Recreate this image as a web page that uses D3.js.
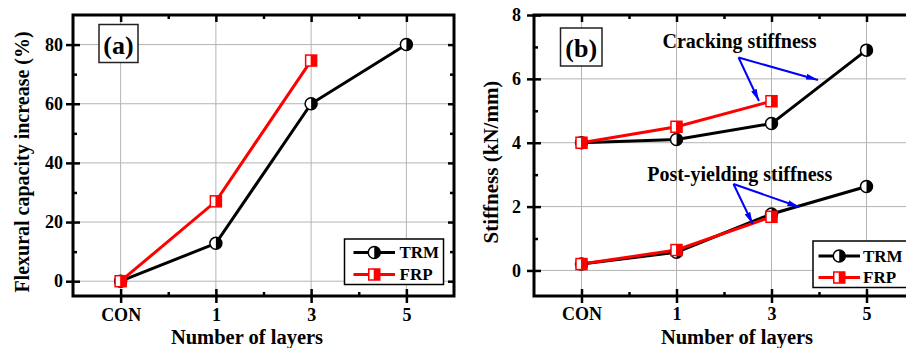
<!DOCTYPE html>
<html>
<head>
<meta charset="utf-8">
<script src="https://cdn.jsdelivr.net/npm/d3@7"></script>
<style>
  body { margin: 0; background: #fff; }
  svg text { font-family: "Liberation Serif", "Times New Roman", Tinos, "DejaVu Serif", serif !important; font-weight: bold; fill: #000; }
</style>
</head>
<body>
<div id="chart"></div>
<script>
// categories shared by both panels
var layers = ['CON', '1', '3', '5'];

// panel (a) flexural capacity increase (%)
var flexTRM = [0, 12.8, 60, 80];
var flexFRP = [0, 27, 74.6];

// panel (b) stiffness (kN/mm)
var crackTRM = [4.0, 4.1, 4.6, 6.9];
var crackFRP = [4.0, 4.5, 5.3];
var yieldTRM = [0.2, 0.57, 1.77, 2.63];
var yieldFRP = [0.2, 0.64, 1.68];

var flexTicks = [0, 20, 40, 60, 80];
var stiffTicks = [0, 2, 4, 6, 8];

var svg = d3.select('#chart').append('svg')
  .attr('width', 906)
  .attr('height', 348);

var defs = svg.append('defs');
defs.append('marker')
  .attr('id', 'arrow')
  .attr('viewBox', '0 0 12 6')
  .attr('refX', 12)
  .attr('refY', 3)
  .attr('markerWidth', 12)
  .attr('markerHeight', 6)
  .attr('markerUnits', 'userSpaceOnUse')
  .attr('orient', 'auto')
  .append('path')
  .attr('d', 'M0,0 L12,3 L0,6 Z')
  .attr('fill', '#0000ff');

function drawPanel(p) {
  var x = d3.scaleLinear().domain([-0.5, 3.5]).range([p.left, p.right]);
  var y = d3.scaleLinear().domain(p.yDomain).range([p.bottom, p.top]);
  var g = svg.append('g');

  var clipId = 'clip' + p.name;
  defs.append('clipPath').attr('id', clipId)
    .append('rect')
    .attr('x', p.left).attr('y', p.top)
    .attr('width', p.right - p.left).attr('height', p.bottom - p.top);

  var plot = g.append('g').attr('clip-path', 'url(#' + clipId + ')');

  // grid
  plot.selectAll('.gx').data(layers).enter().append('line')
    .attr('x1', function(d, i) { return x(i); })
    .attr('x2', function(d, i) { return x(i); })
    .attr('y1', p.top).attr('y2', p.bottom)
    .attr('stroke', '#b4b4b4').attr('stroke-width', 1);
  plot.selectAll('.gy').data(p.ticks).enter().append('line')
    .attr('x1', p.left).attr('x2', p.right)
    .attr('y1', function(d) { return y(d); })
    .attr('y2', function(d) { return y(d); })
    .attr('stroke', '#b4b4b4').attr('stroke-width', 1);

  var idx = layers.map(function(d, i) { return i; });
  var minorX = [0.5, 1.5, 2.5];
  var step = p.ticks[1] - p.ticks[0];
  var minorY = p.ticks.map(function(d) { return d + step / 2; })
    .concat([p.ticks[0] - step / 2])
    .filter(function(d) { return d > p.yDomain[0] && d < p.yDomain[1]; });

  // bottom axis with labels, outward ticks
  var bx = g.append('g').attr('transform', 'translate(0,' + p.bottom + ')')
    .call(d3.axisBottom(x).tickValues(idx).tickSize(7).tickPadding(p.xPad)
      .tickFormat(function(i) { return layers[i]; }));
  bx.selectAll('text').style('font-size', '18px');
  g.append('g').attr('transform', 'translate(0,' + p.bottom + ')')
    .call(d3.axisBottom(x).tickValues(idx).tickSize(-7).tickFormat(''));
  g.append('g').attr('transform', 'translate(0,' + p.bottom + ')')
    .call(d3.axisBottom(x).tickValues(minorX).tickSize(-4).tickFormat(''));
  // top axis
  g.append('g').attr('transform', 'translate(0,' + p.top + ')')
    .call(d3.axisTop(x).tickValues(idx).tickSize(-7).tickFormat(''));
  g.append('g').attr('transform', 'translate(0,' + p.top + ')')
    .call(d3.axisTop(x).tickValues(minorX).tickSize(-4).tickFormat(''));
  // left axis
  var ly = g.append('g').attr('transform', 'translate(' + p.left + ',0)')
    .call(d3.axisLeft(y).tickValues(p.ticks).tickSize(7).tickPadding(p.yPad));
  ly.selectAll('text').style('font-size', '18px');
  g.append('g').attr('transform', 'translate(' + p.left + ',0)')
    .call(d3.axisLeft(y).tickValues(p.ticks).tickSize(-7).tickFormat(''));
  g.append('g').attr('transform', 'translate(' + p.left + ',0)')
    .call(d3.axisLeft(y).tickValues(minorY).tickSize(-4).tickFormat(''));
  // right axis
  g.append('g').attr('transform', 'translate(' + p.right + ',0)')
    .call(d3.axisRight(y).tickValues(p.ticks).tickSize(-6).tickFormat(''));
  g.append('g').attr('transform', 'translate(' + p.right + ',0)')
    .call(d3.axisRight(y).tickValues(minorY).tickSize(-4).tickFormat(''));

  g.selectAll('.domain').remove();
  g.selectAll('.tick line').attr('stroke', '#000').attr('stroke-width', 2.5);

  g.append('rect')
    .attr('x', p.left).attr('y', p.top)
    .attr('width', p.right - p.left).attr('height', p.bottom - p.top)
    .attr('fill', 'none').attr('stroke', '#000').attr('stroke-width', 3);

  // panel tag
  g.append('rect')
    .attr('x', p.tag.x).attr('y', p.tag.y).attr('width', p.tag.w).attr('height', p.tag.h)
    .attr('fill', '#fff').attr('stroke', '#222').attr('stroke-width', 1.5);
  g.append('text')
    .attr('x', p.tag.x + p.tag.w / 2).attr('y', p.tag.y + p.tag.h - 9)
    .attr('text-anchor', 'middle').style('font-size', '26px')
    .text(p.tag.label);

  // axis titles
  g.append('text')
    .attr('transform', 'translate(' + p.yTitleX + ',' + p.yTitleY + ') rotate(-90)')
    .attr('text-anchor', 'middle').style('font-size', p.yTitleSize + 'px')
    .text(p.yTitle);
  g.append('text')
    .attr('x', p.xTitleX).attr('y', 344)
    .attr('text-anchor', 'middle').style('font-size', '20.5px')
    .text('Number of layers');

  var line = d3.line()
    .x(function(d, i) { return x(i); })
    .y(function(d) { return y(d); });

  var marks = g.append('g').attr('clip-path', 'url(#' + clipId + ')');
  p.series.forEach(function(s) {
    var col = s.kind === 'TRM' ? '#000' : '#ff0000';
    marks.append('path')
      .attr('d', line(s.values))
      .attr('fill', 'none').attr('stroke', col).attr('stroke-width', 3);
  });
  p.series.forEach(function(s) {
    var pts = marks.selectAll(null).data(s.values).enter().append('g')
      .attr('transform', function(d, i) { return 'translate(' + x(i) + ',' + y(d) + ')'; });
    drawMarker(pts, s.kind);
  });

  // annotations (data units)
  (p.notes || []).forEach(function(n) {
    g.append('text')
      .attr('x', x(n.text[0])).attr('y', y(n.text[1]))
      .attr('text-anchor', 'middle').style('font-size', '20px')
      .text(n.label);
    n.heads.forEach(function(h) {
      g.append('line')
        .attr('x1', x(n.from[0])).attr('y1', y(n.from[1]))
        .attr('x2', x(h[0])).attr('y2', y(h[1]))
        .attr('stroke', '#0000ff').attr('stroke-width', 2)
        .attr('marker-end', 'url(#arrow)');
    });
  });

  // legend
  var L = p.legend;
  var lg = g.append('g');
  lg.append('rect')
    .attr('x', L.x).attr('y', L.y).attr('width', L.w).attr('height', L.h)
    .attr('fill', '#fff').attr('stroke', '#000').attr('stroke-width', 1.5);
  ['TRM', 'FRP'].forEach(function(k, i) {
    var yy = L.y + L.row0 + i * L.rowGap;
    var col = k === 'TRM' ? '#000' : '#ff0000';
    lg.append('line')
      .attr('x1', L.x + L.l0).attr('x2', L.x + L.l1)
      .attr('y1', yy).attr('y2', yy)
      .attr('stroke', col).attr('stroke-width', 3);
    drawMarker(lg.append('g').attr('transform', 'translate(' + (L.x + (L.l0 + L.l1) / 2) + ',' + yy + ')'), k);
    lg.append('text')
      .attr('x', L.x + L.tx).attr('y', yy + 5.5)
      .style('font-size', '17px')
      .text(k);
  });
}

function drawMarker(sel, kind) {
  if (kind === 'TRM') {
    sel.append('circle').attr('r', 6)
      .attr('fill', '#fff').attr('stroke', '#000').attr('stroke-width', 1.5);
    sel.append('path').attr('d', 'M0,-6 A6,6 0 0 1 0,6 Z').attr('fill', '#000');
  } else {
    sel.append('rect').attr('x', -5.5).attr('y', -5.5).attr('width', 11).attr('height', 11)
      .attr('fill', '#fff').attr('stroke', '#ff0000').attr('stroke-width', 1.5);
    sel.append('rect').attr('x', -0.5).attr('y', -5.5).attr('width', 6).attr('height', 11)
      .attr('fill', '#ff0000');
  }
}

drawPanel({
  name: 'a',
  left: 73, right: 454, top: 15, bottom: 296,
  yDomain: [-5, 90], ticks: flexTicks,
  xPad: 5, yPad: 3,
  yTitle: 'Flexural capacity increase (%)', yTitleX: 29, yTitleY: 162, yTitleSize: 20,
  xTitleX: 247,
  tag: { x: 99, y: 24.5, w: 39, h: 38, label: '(a)' },
  legend: { x: 344.5, y: 239, w: 99, h: 45.5, row0: 13.5, rowGap: 22, l0: 9, l1: 50.5, tx: 55 },
  series: [
    { kind: 'TRM', values: flexTRM },
    { kind: 'FRP', values: flexFRP }
  ]
});

drawPanel({
  name: 'b',
  left: 534, right: 914, top: 15, bottom: 296,
  yDomain: [-0.8, 8], ticks: stiffTicks,
  xPad: 4, yPad: 6,
  yTitle: 'Stiffness (kN/mm)', yTitleX: 498, yTitleY: 162, yTitleSize: 21,
  xTitleX: 737,
  tag: { x: 560.5, y: 28, w: 41.5, h: 38, label: '(b)' },
  legend: { x: 813, y: 241, w: 96, h: 46.5, row0: 15, rowGap: 21.5, l0: 5.5, l1: 47, tx: 50 },
  series: [
    { kind: 'TRM', values: crackTRM },
    { kind: 'FRP', values: crackFRP },
    { kind: 'TRM', values: yieldTRM },
    { kind: 'FRP', values: yieldFRP }
  ],
  notes: [
    { label: 'Cracking stiffness', text: [1.663, 6.967], from: [1.653, 6.669],
      heads: [[1.868, 5.307], [2.489, 5.965]] },
    { label: 'Post-yielding stiffness', text: [1.665, 2.786], from: [1.600, 2.708],
      heads: [[1.802, 1.455], [2.293, 1.987]] }
  ]
});
</script>
</body>
</html>
